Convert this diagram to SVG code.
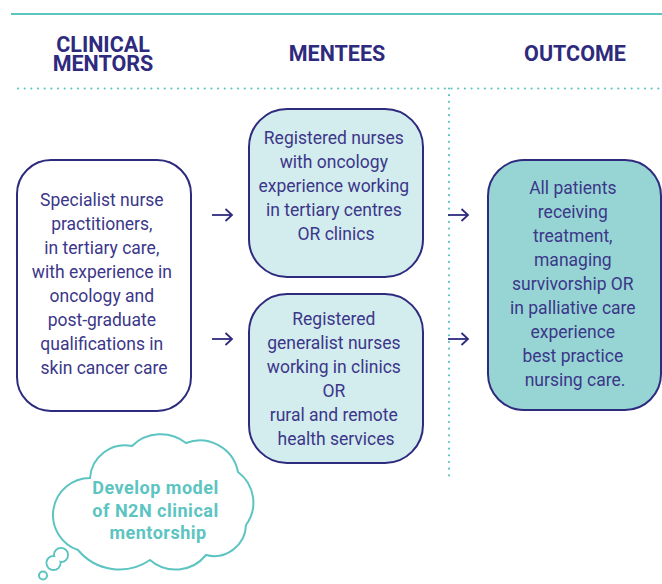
<svg xmlns="http://www.w3.org/2000/svg" width="662" height="584" viewBox="0 0 662 584">
  <style>
    .rule { stroke: #5CC4C1; stroke-width: 2; fill: none; }
    .dots { stroke: #5CC4C1; stroke-width: 2.2; stroke-linecap: round; stroke-dasharray: 0 6.67; fill: none; }
    .head { font-family: Roboto, "Liberation Sans", sans-serif; font-weight: 700; font-size: 21.5px; fill: #2E2A7E; text-anchor: middle; }
    .box { stroke: #2E2A7E; stroke-width: 2; }
    .body { font-family: Roboto, "Liberation Sans", sans-serif; font-size: 17.5px; fill: #3B3789; text-anchor: middle; }
    .arrow { stroke: #2E2A7E; stroke-width: 1.8; fill: none; }
    .cloud { stroke: #5CC4C1; stroke-width: 2; fill: #FFFFFF; }
    .cloudtext { font-family: Roboto, "Liberation Sans", sans-serif; font-weight: 700; font-size: 18px; letter-spacing: 0.5px; fill: #5CC4C1; text-anchor: middle; }
  </style>
  <defs>
    <marker id="chev" viewBox="0 0 12 12" refX="11" refY="6" markerWidth="12" markerHeight="12" markerUnits="userSpaceOnUse" orient="auto" overflow="visible">
      <path d="M4.5,0 L11,6 L4.5,12" fill="none" stroke="#2E2A7E" stroke-width="1.8"/>
    </marker>
  </defs>

  <rect width="662" height="584" fill="#FFFFFF"/>

  <!-- header rules -->
  <g id="rules">
    <line class="rule" x1="11" y1="14" x2="662" y2="14"/>
    <line class="dots" x1="18" y1="88.5" x2="662" y2="88.5"/>
    <line class="dots" x1="449" y1="88.5" x2="449" y2="480"/>
  </g>

  <!-- column headings -->
  <g id="headings">
    <text class="head" x="103" y="52">CLINICAL</text>
    <text class="head" x="103" y="71">MENTORS</text>
    <text class="head" x="337" y="61">MENTEES</text>
    <text class="head" x="575" y="61">OUTCOME</text>
  </g>

  <g id="mentors">
    <rect class="box" x="17" y="160" width="174" height="251" rx="34" ry="34" fill="#FFFFFF"/>
    <text class="body" x="104">
      <tspan x="104" y="206">Specialist nurse</tspan>
      <tspan x="104" y="230">practitioners,</tspan>
      <tspan x="104" y="254">in tertiary care,</tspan>
      <tspan x="104" y="278">with experience in</tspan>
      <tspan x="104" y="302">oncology and</tspan>
      <tspan x="104" y="326">post-graduate</tspan>
      <tspan x="104" y="350">qualifications in</tspan>
      <tspan x="104" y="374">skin cancer care</tspan>
    </text>
  </g>

  <g id="mentees-oncology">
    <rect class="box" x="249" y="109" width="174" height="168" rx="38" ry="38" fill="#D3ECEE"/>
    <text class="body">
      <tspan x="336" y="144">Registered nurses</tspan>
      <tspan x="336" y="168">with oncology</tspan>
      <tspan x="336" y="192">experience working</tspan>
      <tspan x="336" y="216">in tertiary centres</tspan>
      <tspan x="336" y="240">OR clinics</tspan>
    </text>
  </g>

  <g id="mentees-generalist">
    <rect class="box" x="249" y="294" width="174" height="169" rx="38" ry="38" fill="#D3ECEE"/>
    <text class="body">
      <tspan x="336" y="325">Registered</tspan>
      <tspan x="336" y="349">generalist nurses</tspan>
      <tspan x="336" y="373">working in clinics</tspan>
      <tspan x="336" y="397">OR</tspan>
      <tspan x="336" y="421">rural and remote</tspan>
      <tspan x="336" y="445">health services</tspan>
    </text>
  </g>

  <g id="outcome">
    <rect class="box" x="488" y="160" width="173" height="250" rx="36" ry="36" fill="#97D5D4"/>
    <text class="body">
      <tspan x="575" y="194">All patients</tspan>
      <tspan x="575" y="218">receiving</tspan>
      <tspan x="575" y="242">treatment,</tspan>
      <tspan x="575" y="266">managing</tspan>
      <tspan x="575" y="290">survivorship OR</tspan>
      <tspan x="575" y="314">in palliative care</tspan>
      <tspan x="575" y="338">experience</tspan>
      <tspan x="575" y="362">best practice</tspan>
      <tspan x="575" y="386">nursing care.</tspan>
    </text>
  </g>

  <!-- connectors -->
  <g id="connectors">
    <line class="arrow" x1="212" y1="215" x2="232" y2="215" marker-end="url(#chev)"/>
    <line class="arrow" x1="212" y1="339" x2="232" y2="339" marker-end="url(#chev)"/>
    <line class="arrow" x1="448" y1="215" x2="468" y2="215" marker-end="url(#chev)"/>
    <line class="arrow" x1="448" y1="339" x2="468" y2="339" marker-end="url(#chev)"/>
  </g>

  <!-- thought cloud -->
  <g id="thought">
    <path class="cloud" d="M78,550 A37,37 0 0 1 90,478 A35,35 0 0 1 132,446 A41,41 0 0 1 186,443 A39,39 0 0 1 238,472 A38,38 0 0 1 246,525 A32,32 0 0 1 206,555 A39,39 0 0 1 150,560 A54,54 0 0 1 78,550 Z"/>
    <circle class="cloud" cx="61" cy="555" r="7"/>
    <circle class="cloud" cx="53.5" cy="563" r="7"/>
    <circle cx="61" cy="555" r="6" fill="#FFFFFF"/>
    <circle cx="53.5" cy="563" r="6" fill="#FFFFFF"/>
    <circle class="cloud" cx="43" cy="575.5" r="4"/>
    <text class="cloudtext">
      <tspan x="158" y="494">Develop model</tspan>
      <tspan x="158" y="517">of N2N clinical</tspan>
      <tspan x="158" y="539">mentorship</tspan>
    </text>
  </g>
</svg>
